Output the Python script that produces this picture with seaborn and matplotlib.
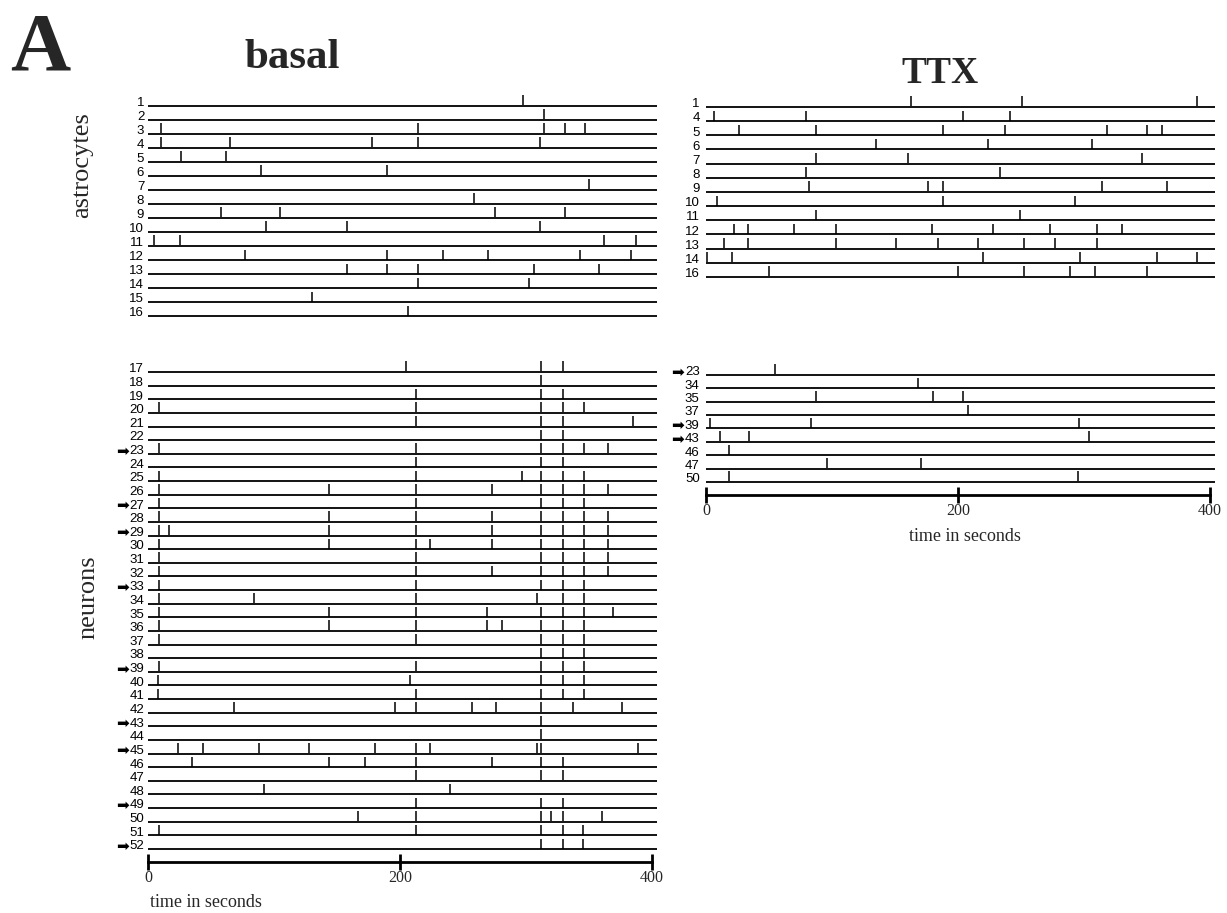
import numpy as np
import pandas as pd
import matplotlib
matplotlib.use("Agg")
import matplotlib.pyplot as plt
import seaborn as sns

# ---- data: spike times (s) per cell ----
basal_astro_ids = list(range(1, 17))
basal_astro_spikes = [
    [298], [314], [10, 214, 314, 331, 347], [10, 65, 178, 214, 311],
    [26, 62], [90, 190], [350], [259], [58, 105, 275, 331], [94, 158, 311],
    [5, 25, 362, 387], [77, 190, 234, 270, 343, 383], [158, 190, 214, 306, 358],
    [214, 302], [130], [206],
]

basal_neuron_ids = list(range(17, 53))
basal_neuron_spikes = [
    [205, 312, 329], [312], [213, 312, 329], [9, 213, 312, 329, 346],
    [213, 312, 329, 385], [312, 329], [9, 213, 312, 329, 346, 365], [213, 312, 329],
    [9, 213, 297, 312, 329, 346], [9, 144, 213, 273, 312, 329, 346, 365],
    [9, 213, 312, 329, 346], [9, 144, 213, 273, 312, 329, 346, 365],
    [9, 17, 144, 213, 273, 312, 329, 346, 365], [9, 144, 213, 224, 273, 312, 329, 346, 365],
    [9, 213, 312, 329, 346, 365], [9, 213, 273, 312, 329, 346, 365],
    [9, 213, 312, 329, 346], [9, 84, 213, 309, 329, 346],
    [9, 144, 213, 269, 312, 329, 346, 369], [9, 144, 213, 269, 281, 312, 329, 346],
    [9, 213, 312, 329, 346], [312, 329, 346], [9, 213, 312, 329, 346],
    [8, 208, 312, 329, 346], [8, 213, 312, 329, 346],
    [68, 196, 213, 257, 276, 312, 337, 376], [312], [312],
    [24, 44, 88, 128, 180, 213, 224, 309, 312, 389], [35, 144, 172, 213, 273, 312, 329],
    [213, 312, 329], [92, 240], [213, 312, 329], [167, 213, 312, 320, 329, 360],
    [9, 213, 312, 329, 345], [312, 329, 345],
]
basal_arrows = [23, 27, 29, 33, 39, 43, 45, 49, 52]

ttx_astro_ids = [1, 4, 5, 6, 7, 8, 9, 10, 11, 12, 13, 14, 16]
ttx_astro_spikes = [
    [163, 251, 390], [6, 79, 204, 241], [26, 87, 188, 237, 318, 350, 362],
    [135, 224, 306], [87, 160, 346], [79, 233], [82, 176, 188, 314, 366],
    [9, 188, 293], [87, 249], [22, 33, 70, 103, 179, 228, 273, 310, 330],
    [14, 33, 103, 151, 184, 216, 252, 277, 310], [1, 21, 220, 297, 358, 390],
    [50, 200, 252, 289, 309, 350],
]

ttx_neuron_ids = [23, 34, 35, 37, 39, 43, 46, 47, 50]
ttx_neuron_spikes = [
    [55], [168], [87, 180, 204], [208], [3, 83, 296], [11, 34, 304], [18],
    [96, 171], [18, 295],
]
ttx_arrows = [23, 39, 43]

time_ticks = [0, 200, 400]

# ---- style ----
sns.set_theme(style="white")
SERIF = ["Liberation Serif", "DejaVu Serif"]
SANS = ["Liberation Sans", "DejaVu Sans"]
plt.rcParams["font.family"] = SANS

W, H = 1227, 913
fig = plt.figure(figsize=(W / 100, H / 100), dpi=100)
XMIN, XMAX = -40, 420
PPU = 504 / 400  # pixels per second


def add_panel(x0, y_first, y_last, n, top_px, bot_px):
    left = x0 + XMIN * PPU
    right = x0 + XMAX * PPU
    spacing = (y_last - y_first) / (n - 1)
    ax = fig.add_axes([left / W, 1 - bot_px / H, (right - left) / W, (bot_px - top_px) / H])
    ax.set_xlim(XMIN, XMAX)
    ax.set_ylim((bot_px - y_first) / spacing, (top_px - y_first) / spacing)
    ax.patch.set_alpha(0)
    return ax, spacing


def draw_rows(ax, ids, spikes, arrows, spacing, label_dx):
    rows = np.arange(len(ids))
    ax.hlines(rows, 0, 404, color="black", lw=1.3)
    df = pd.DataFrame({
        "t": [t for s in spikes for t in s],
        "row": [i for i, s in enumerate(spikes) for _ in s],
    })
    df["y"] = df["row"] - 5.5 / spacing
    sns.scatterplot(data=df, x="t", y="y", marker="|", s=62, color="black",
                    linewidth=1.1, ax=ax, legend=False)
    for r, cid in zip(rows, ids):
        ax.text(label_dx, r - 0.2, str(cid), ha="right", va="center", fontsize=9.5,
                family=SANS, color="black")
        if cid in arrows:
            ax.text(label_dx - 12.5, r - 0.2, "\u27a1", ha="right", va="center",
                    fontsize=11, family=["DejaVu Sans"], color="black")
    ax.set(xlabel="", ylabel="")
    ax.set_yticks([])


def bare(ax):
    for sp in ax.spines.values():
        sp.set_visible(False)
    ax.set_xticks([])


def time_axis(ax):
    for k in ["left", "top", "right"]:
        ax.spines[k].set_visible(False)
    sp = ax.spines["bottom"]
    sp.set_visible(True)
    sp.set_bounds(0, 400)
    sp.set_linewidth(2)
    sp.set_color("black")
    ax.set_xticks(time_ticks)
    ax.set_xticklabels([str(t) for t in time_ticks], family=SERIF, fontsize=11.5)
    ax.tick_params(axis="x", direction="inout", length=11, width=2, color="black",
                   bottom=True, pad=0)


# basal astrocytes
ax1, sp1 = add_panel(148, 106, 316, 16, 92, 324)
draw_rows(ax1, basal_astro_ids, basal_astro_spikes, [], sp1, -3)
bare(ax1)

# basal neurons
ax2, sp2 = add_panel(148, 372, 849, 36, 358, 862)
draw_rows(ax2, basal_neuron_ids, basal_neuron_spikes, basal_arrows, sp2, -3)
time_axis(ax2)

# TTX astrocytes
ax3, sp3 = add_panel(706, 107, 277, 13, 93, 285)
draw_rows(ax3, ttx_astro_ids, ttx_astro_spikes, [], sp3, -5)
bare(ax3)

# TTX neurons
ax4, sp4 = add_panel(706, 375, 482, 9, 361, 495)
draw_rows(ax4, ttx_neuron_ids, ttx_neuron_spikes, ttx_arrows, sp4, -5)
time_axis(ax4)

# axis titles
fig.text(206 / W, 1 - 902 / H, "time in seconds", family=SERIF, fontsize=13,
         ha="center", va="center")
fig.text(965 / W, 1 - 536 / H, "time in seconds", family=SERIF, fontsize=13,
         ha="center", va="center")

# titles and group labels
fig.text(40 / W, 1 - 70 / H, "A", family=SERIF, fontsize=60, fontweight="bold",
         ha="center", va="baseline")
fig.text(292 / W, 1 - 68 / H, "basal", family=SERIF, fontsize=31, fontweight="bold",
         ha="center", va="baseline")
fig.text(940 / W, 1 - 83 / H, "TTX", family=SERIF, fontsize=27, fontweight="bold",
         ha="center", va="baseline")
fig.text(82 / W, 1 - 165 / H, "astrocytes", family=SERIF, fontsize=19,
         rotation=90, ha="center", va="center")
fig.text(88 / W, 1 - 597 / H, "neurons", family=SERIF, fontsize=19,
         rotation=90, ha="center", va="center")

fig.savefig("out.png", dpi=100, facecolor="white")
